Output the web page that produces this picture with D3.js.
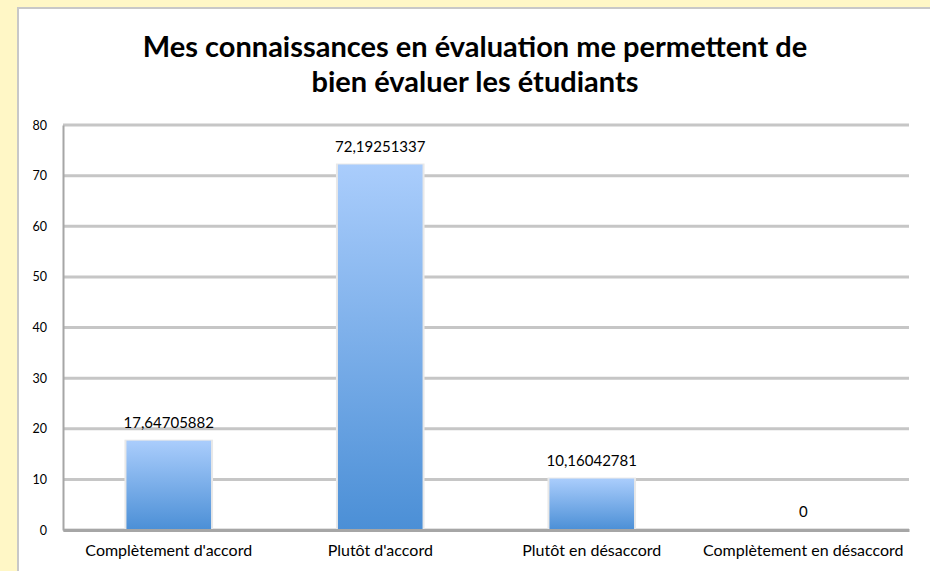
<!DOCTYPE html>
<html>
<head>
<meta charset="utf-8">
<script src="https://cdn.jsdelivr.net/npm/d3@7"></script>
<style>
  body { margin: 0; background: #fff7c6; }
  svg { display: block; }
</style>
</head>
<body>
<svg id="chart" width="930" height="571"></svg>
<script>
// data
var categories = ["Complètement d'accord", "Plutôt d'accord", "Plutôt en désaccord", "Complètement en désaccord"];
var values = [17.64705882, 72.19251337, 10.16042781, 0];
var valueLabels = ["17,64705882", "72,19251337", "10,16042781", "0"];
var yTicks = [0, 10, 20, 30, 40, 50, 60, 70, 80];
var titleLines = ["Mes connaissances en évaluation me permettent de", "bien évaluer les étudiants"];

var svg = d3.select("#chart");
var W = 930, H = 571;
var margin = { top: 125, right: 21, bottom: 41, left: 63 };

// white chart panel with grey border
svg.append("rect")
  .attr("x", 18).attr("y", 8)
  .attr("width", W).attr("height", H)
  .attr("fill", "#fff")
  .attr("stroke", "#c8c8c8")
  .attr("stroke-width", 2);

var x = d3.scaleBand()
  .domain(categories)
  .range([margin.left, W - margin.right])
  .paddingInner(0.6)
  .paddingOuter(0.3);

var y = d3.scaleLinear()
  .domain([0, 80])
  .range([H - margin.bottom, margin.top]);

var defs = svg.append("defs");
var grad = defs.append("linearGradient")
  .attr("id", "barGrad")
  .attr("x1", 0).attr("y1", 0).attr("x2", 0).attr("y2", 1);
grad.append("stop").attr("offset", "0%").attr("stop-color", "#aacdfc");
grad.append("stop").attr("offset", "100%").attr("stop-color", "#4b8fd6");

// gridlines
svg.append("g")
  .selectAll("line")
  .data(yTicks)
  .join("line")
  .attr("x1", margin.left).attr("x2", W - margin.right)
  .attr("y1", d => y(d)).attr("y2", d => y(d))
  .attr("stroke", "#c6c6c6")
  .attr("stroke-width", 3);

// y axis
var yAxis = svg.append("g")
  .attr("transform", "translate(" + margin.left + ",0)")
  .call(d3.axisLeft(y).tickValues(yTicks).tickSize(0).tickPadding(16));
yAxis.select(".domain").attr("stroke", "#a6a6a6").attr("stroke-width", 2);
yAxis.selectAll("text")
  .attr("font-family", "Lato, sans-serif")
  .attr("font-size", 12.5)
  .attr("fill", "#000");

// bars, with a faint shadow
svg.append("g")
  .selectAll("rect")
  .data(values)
  .join("rect")
  .attr("x", (d, i) => x(categories[i]) - 2)
  .attr("y", d => y(d) - 1)
  .attr("width", x.bandwidth() + 4)
  .attr("height", d => d > 0 ? y(0) - y(d) + 1 : 0)
  .attr("fill", "#e8e8e8");

svg.append("g")
  .selectAll("rect")
  .data(values)
  .join("rect")
  .attr("x", (d, i) => x(categories[i]))
  .attr("y", d => y(d))
  .attr("width", x.bandwidth())
  .attr("height", d => y(0) - y(d))
  .attr("fill", "url(#barGrad)");

// value labels
svg.append("g")
  .selectAll("text")
  .data(values)
  .join("text")
  .attr("x", (d, i) => x(categories[i]) + x.bandwidth() / 2)
  .attr("y", d => y(d) - 13)
  .attr("text-anchor", "middle")
  .attr("font-family", "Lato, sans-serif")
  .attr("font-size", 15)
  .attr("fill", "#000")
  .text((d, i) => valueLabels[i]);

// x axis baseline and labels
var xAxis = svg.append("g")
  .attr("transform", "translate(0," + y(0) + ")")
  .call(d3.axisBottom(x).tickSize(0).tickPadding(15));
xAxis.select(".domain").attr("stroke", "#a6a6a6").attr("stroke-width", 3);
xAxis.selectAll("text")
  .attr("font-family", "Lato, sans-serif")
  .attr("font-size", 16)
  .attr("fill", "#000");

// title
svg.append("g")
  .selectAll("text")
  .data(titleLines)
  .join("text")
  .attr("x", 475)
  .attr("y", (d, i) => 57 + i * 35)
  .attr("text-anchor", "middle")
  .attr("font-family", "Lato, sans-serif")
  .attr("font-weight", "bold")
  .attr("font-size", 29)
  .attr("fill", "#000")
  .text(d => d);
</script>
</body>
</html>
